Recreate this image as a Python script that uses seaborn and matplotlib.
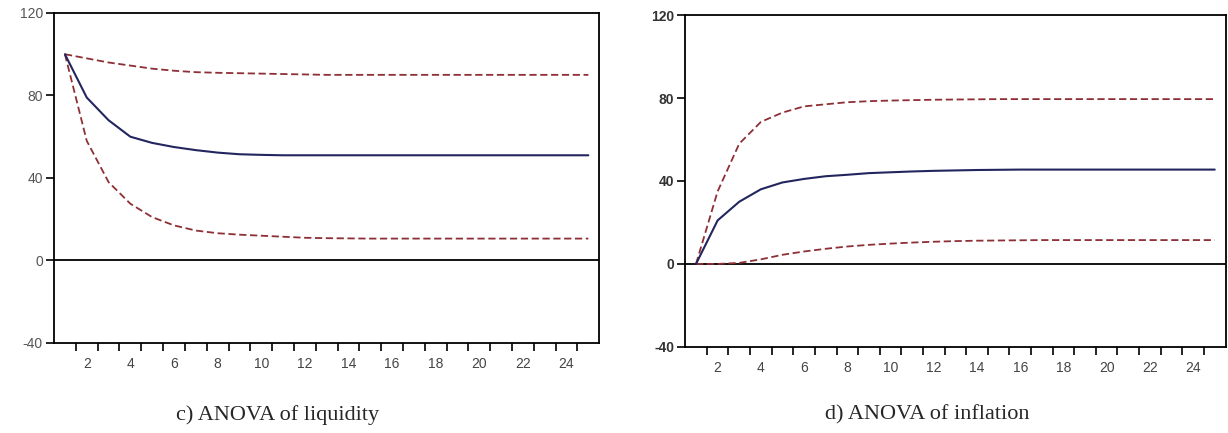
import numpy as np
import pandas as pd
import seaborn as sns
import matplotlib.pyplot as plt
from matplotlib.ticker import FixedLocator

# periods 1..25
periods = list(range(1, 26))

# c) liquidity
liq_mid = [100, 79, 68, 60, 57, 55, 53.5, 52.3, 51.5, 51.2, 51, 51, 51, 51, 51,
           51, 51, 51, 51, 51, 51, 51, 51, 51, 51]
liq_upper = [100, 98, 96, 94.5, 93, 92, 91.3, 91, 90.8, 90.6, 90.4, 90.2, 90, 90, 90,
             90, 90, 90, 90, 90, 90, 90, 90, 90, 90]
liq_lower = [100, 58, 38, 27.5, 21, 17, 14.5, 13.2, 12.5, 12, 11.5, 11, 10.8, 10.7, 10.6,
             10.6, 10.6, 10.6, 10.6, 10.6, 10.6, 10.6, 10.6, 10.6, 10.6]

# d) inflation
inf_mid = [0, 21, 30, 36, 39.3, 41, 42.3, 43, 43.8, 44.2, 44.6, 44.9, 45.1, 45.3, 45.4,
           45.5, 45.5, 45.5, 45.5, 45.5, 45.5, 45.5, 45.5, 45.5, 45.5]
inf_upper = [0, 35, 58, 68.5, 73, 76, 77, 78, 78.5, 78.8, 79, 79.2, 79.3, 79.4, 79.5,
             79.5, 79.5, 79.5, 79.5, 79.5, 79.5, 79.5, 79.5, 79.5, 79.5]
inf_lower = [0, 0, 0.5, 2.2, 4.4, 6, 7.3, 8.4, 9.2, 9.8, 10.3, 10.7, 11, 11.2, 11.3,
             11.4, 11.5, 11.5, 11.5, 11.5, 11.5, 11.5, 11.5, 11.5, 11.5]

captions = ["c) ANOVA of liquidity", "d) ANOVA of inflation"]
y_ticks = [-40, 0, 40, 80, 120]
x_labels = list(range(2, 25, 2))

sns.set_style("white")
plt.rcParams['font.family'] = ['Liberation Sans', 'DejaVu Sans']
plt.rcParams['axes.unicode_minus'] = False

fig = plt.figure(figsize=(12.28, 4.33), dpi=100)
ax1 = fig.add_axes([0.044, 0.208, 0.444, 0.762])
ax2 = fig.add_axes([0.558, 0.199, 0.440, 0.766])

mid_col = "#23265e"
band_col = "#8e2f35"

# (axes, mid, upper, lower, label colour, y label weight)
panels = [
    (ax1, liq_mid, liq_upper, liq_lower, "#555555", "normal"),
    (ax2, inf_mid, inf_upper, inf_lower, "#333333", "semibold"),
]

for ax, mid, up, lo, tcol, tw in panels:
    df = pd.DataFrame({"period": periods, "mid": mid, "upper": up, "lower": lo})
    ax.axhline(0, color="black", lw=1.3, zorder=1)
    sns.lineplot(data=df, x="period", y="upper", ax=ax, color=band_col,
                 lw=1.3, linestyle=(0, (4, 2)))
    sns.lineplot(data=df, x="period", y="lower", ax=ax, color=band_col,
                 lw=1.3, linestyle=(0, (4, 2)))
    sns.lineplot(data=df, x="period", y="mid", ax=ax, color=mid_col, lw=1.5)

    ax.set_xlim(0.5, 25.5)
    ax.set_ylim(-40, 120)
    ax.set_yticks(y_ticks)
    ax.set_xticks(x_labels)
    ax.xaxis.set_minor_locator(FixedLocator(np.arange(1.5, 25, 1.0)))
    ax.tick_params(axis="x", which="major", length=0, pad=10, labelsize=10,
                   labelcolor="#444444")
    ax.tick_params(axis="x", which="minor", length=6, width=1.2, direction="out",
                   color="black", bottom=True)
    ax.tick_params(axis="y", length=6, width=1.2, direction="out", color="black",
                   left=True, pad=2, labelsize=10, labelcolor=tcol)
    for lab in ax.get_yticklabels():
        lab.set_fontweight(tw)
    ax.set_xlabel("")
    ax.set_ylabel("")
    for s in ax.spines.values():
        s.set_color("black")
        s.set_linewidth(1.3)

fig.text(0.226, 0.042, captions[0], ha="center", va="center",
         fontsize=16, family=["Liberation Serif", "DejaVu Serif"])
fig.text(0.755, 0.042, captions[1], ha="center", va="center",
         fontsize=16, family=["Liberation Serif", "DejaVu Serif"])

fig.savefig("out.png", dpi=100)
